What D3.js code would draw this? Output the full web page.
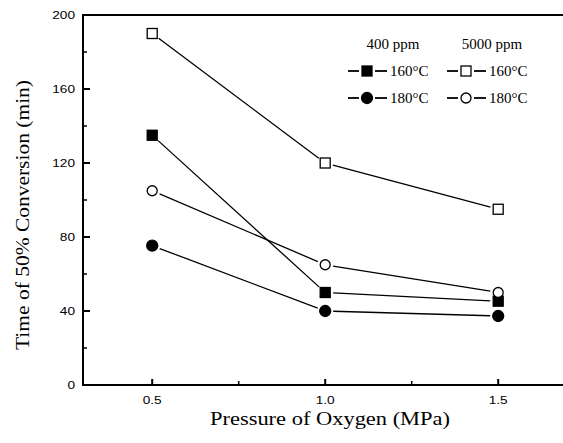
<!DOCTYPE html>
<html>
<head>
<meta charset="utf-8">
<script src="https://cdn.jsdelivr.net/npm/d3@7"></script>
<style>
  body { margin: 0; background: #fff; }
  .tick-label { font-family: "Liberation Sans", Arial, sans-serif; font-size: 10.5px; fill: #000; }
  .title { font-family: "Liberation Serif", "Times New Roman", serif; font-size: 19px; fill: #000; }
  .legend { font-family: "Liberation Serif", "Times New Roman", serif; font-size: 15px; fill: #000; }
</style>
</head>
<body>
<svg id="chart" width="563" height="443"></svg>
<script>
const pressures = [0.5, 1.0, 1.5];

const series = [
  { name: "5000 ppm 160", shape: "square", filled: false, values: [190, 120, 95] },
  { name: "400 ppm 160", shape: "square", filled: true, values: [135, 50, 45.3] },
  { name: "5000 ppm 180", shape: "circle", filled: false, values: [105, 65, 50] },
  { name: "400 ppm 180", shape: "circle", filled: true, values: [75.3, 40, 37.3] },
];

const yTicks = [0, 40, 80, 120, 160, 200];
const yMinor = [20, 60, 100, 140, 180];
const xTicks = [0.5, 1.0, 1.5];
const xMinor = [0.75, 1.25];

const legendCols = [
  { header: "400 ppm", filled: true },
  { header: "5000 ppm", filled: false },
];
const legendRows = [
  { shape: "square", label: "160°C" },
  { shape: "circle", label: "180°C" },
];

const svg = d3.select("#chart");
const margin = { left: 83, top: 15, bottom: 385 };

const x = d3.scaleLinear().domain([0.3, 1.7]).range([margin.left, margin.left + 1.4 * 346]);
const y = d3.scaleLinear().domain([0, 200]).range([margin.bottom, margin.top]);

// frame
svg.append("rect")
  .attr("x", x(0.3)).attr("y", y(200))
  .attr("width", x(1.7) - x(0.3)).attr("height", y(0) - y(200))
  .attr("fill", "none").attr("stroke", "#000").attr("stroke-width", 2);

// y ticks (inward)
svg.append("g").selectAll("line").data(yTicks).join("line")
  .attr("x1", x(0.3)).attr("x2", x(0.3) + 7)
  .attr("y1", d => y(d)).attr("y2", d => y(d))
  .attr("stroke", "#000").attr("stroke-width", 2);
svg.append("g").selectAll("line").data(yMinor).join("line")
  .attr("x1", x(0.3)).attr("x2", x(0.3) + 4)
  .attr("y1", d => y(d)).attr("y2", d => y(d))
  .attr("stroke", "#000").attr("stroke-width", 1.5);
// tick labels are drawn a bit wider than tall, like the original
svg.append("g").selectAll("g").data(yTicks).join("g")
  .attr("transform", d => `translate(${x(0.3) - 8},${y(d) + 4}) scale(1.3,1)`)
  .append("text")
  .attr("class", "tick-label")
  .attr("text-anchor", "end")
  .text(d => d);

// x ticks (inward)
svg.append("g").selectAll("line").data(xTicks).join("line")
  .attr("x1", d => x(d)).attr("x2", d => x(d))
  .attr("y1", y(0)).attr("y2", y(0) - 6)
  .attr("stroke", "#000").attr("stroke-width", 2);
svg.append("g").selectAll("line").data(xMinor).join("line")
  .attr("x1", d => x(d)).attr("x2", d => x(d))
  .attr("y1", y(0)).attr("y2", y(0) - 4)
  .attr("stroke", "#000").attr("stroke-width", 1.5);
svg.append("g").selectAll("g").data(xTicks).join("g")
  .attr("transform", d => `translate(${x(d)},${y(0) + 19}) scale(1.3,1)`)
  .append("text")
  .attr("class", "tick-label")
  .attr("text-anchor", "middle")
  .text(d => d3.format(".1f")(d));

// axis titles
svg.append("text").attr("class", "title")
  .attr("x", 210).attr("y", 425)
  .attr("textLength", 240).attr("lengthAdjust", "spacingAndGlyphs")
  .text("Pressure of Oxygen (MPa)");
svg.append("text").attr("class", "title")
  .attr("transform", `translate(29,350) rotate(-90)`)
  .attr("textLength", 270).attr("lengthAdjust", "spacingAndGlyphs")
  .text("Time of 50% Conversion (min)");

function drawMarker(g, shape, filled, cx, cy) {
  if (shape === "square") {
    g.append("rect")
      .attr("x", cx - 5).attr("y", cy - 5).attr("width", 10).attr("height", 10)
      .attr("fill", filled ? "#000" : "#fff").attr("stroke", "#000").attr("stroke-width", 1.3);
  } else {
    g.append("circle")
      .attr("cx", cx).attr("cy", cy).attr("r", filled ? 5.5 : 5)
      .attr("fill", filled ? "#000" : "#fff").attr("stroke", "#000").attr("stroke-width", 1.3);
  }
}

// series lines with gaps at markers
const gap = 8;
series.forEach(s => {
  const g = svg.append("g");
  const pts = pressures.map((p, i) => [x(p), y(s.values[i])]);
  d3.pairs(pts).forEach(([a, b]) => {
    const dx = b[0] - a[0], dy = b[1] - a[1];
    const len = Math.hypot(dx, dy);
    const ux = dx / len, uy = dy / len;
    g.append("line")
      .attr("x1", a[0] + ux * gap).attr("y1", a[1] + uy * gap)
      .attr("x2", b[0] - ux * gap).attr("y2", b[1] - uy * gap)
      .attr("stroke", "#000").attr("stroke-width", 1.3);
  });
  pts.forEach(p => drawMarker(g, s.shape, s.filled, p[0], p[1]));
});

// legend
const colX = [367, 466];
const rowY = [71, 98];
const legend = svg.append("g");
legendCols.forEach((c, ci) => {
  legend.append("text").attr("class", "legend")
    .attr("x", colX[ci] + 26).attr("y", 49).attr("text-anchor", "middle")
    .text(c.header);
  legendRows.forEach((r, ri) => {
    const cx = colX[ci], cy = rowY[ri];
    legend.append("line").attr("x1", cx - 19).attr("x2", cx - 8)
      .attr("y1", cy).attr("y2", cy).attr("stroke", "#000").attr("stroke-width", 1.8);
    legend.append("line").attr("x1", cx + 8).attr("x2", cx + 20)
      .attr("y1", cy).attr("y2", cy).attr("stroke", "#000").attr("stroke-width", 1.8);
    drawMarker(legend, r.shape, c.filled, cx, cy);
    legend.append("text").attr("class", "legend")
      .attr("x", cx + 23).attr("y", cy + 5)
      .text(r.label);
  });
});
</script>
</body>
</html>
